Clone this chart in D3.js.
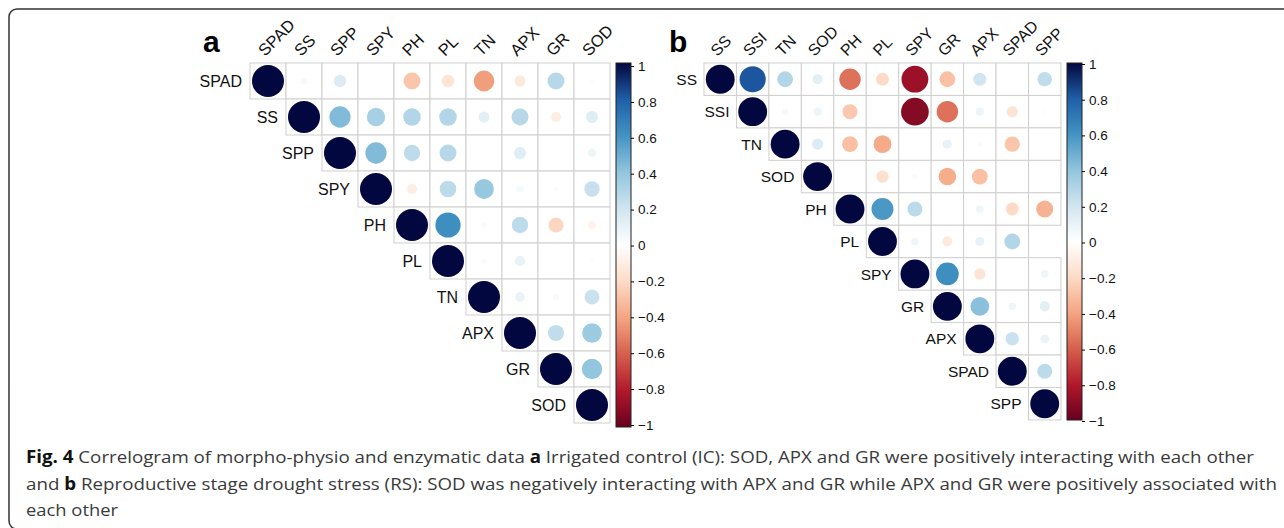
<!DOCTYPE html>
<html>
<head>
<meta charset="utf-8">
<script src="https://cdn.jsdelivr.net/npm/d3@7"></script>
<style>
body{margin:0;background:#fff;}
svg text{font-family:"Liberation Sans",Arial,sans-serif;}
</style>
</head>
<body>
<div id="fig"></div>
<script>
// correlogram, two panels + caption
var W=1284,H=528;

// panel a (irrigated control) - upper triangle rows, diagonal first
var varsA=["SPAD","SS","SPP","SPY","PH","PL","TN","APX","GR","SOD"];
var corrA=[
[1,0.05,0.15,0,-0.28,-0.15,-0.42,-0.12,0.28,-0.02],
[1,0.44,0.33,0.3,0.3,0.12,0.28,-0.1,0.14],
[1,0.44,0.26,0.28,0,0.14,0,0.07],
[1,-0.1,0.27,0.38,0.05,0.02,0.23],
[1,0.62,0.03,0.26,-0.22,-0.07],
[1,0.03,0.1,0,-0.02],
[1,0.09,0.04,0.22],
[1,0.25,0.37],
[1,0.4],
[1]
];

// panel b (reproductive stage drought stress)
var varsB=["SS","SSI","TN","SOD","PH","PL","SPY","GR","APX","SPAD","SPP"];
var corrB=[
[1,0.82,0.3,0.12,-0.55,-0.2,-0.86,-0.3,0.2,0,0.25],
[1,0.05,0.08,-0.27,0,-0.92,-0.55,0.08,-0.15,0.02],
[1,0.15,-0.3,-0.38,0,0.1,0.03,-0.28,0],
[1,0,-0.18,-0.03,-0.37,-0.3,0,0.01],
[1,0.58,0.27,-0.01,0.07,-0.2,-0.35],
[1,0.07,-0.12,0.1,0.3],
[1,0.62,-0.15,0.01,0.07],
[1,0.42,0.07,0.12],
[1,0.22,0.09],
[1,0.27],
[1]
];

var barTicks=[1,0.8,0.6,0.4,0.2,0,-0.2,-0.4,-0.6,-0.8,-1];
var rdbu=["#67001F","#B2182B","#D6604D","#F4A582","#FDDBC7","#FFFFFF","#D1E5F0","#92C5DE","#4393C3","#1F5FA8","#03073F"];

var capLines=[
 [{t:"Fig. 4",b:1},{t:" Correlogram of morpho-physio and enzymatic data "},{t:"a",b:1},{t:" Irrigated control (IC): SOD, APX and GR were positively interacting with each other"}],
 [{t:"and "},{t:"b",b:1},{t:" Reproductive stage drought stress (RS): SOD was negatively interacting with APX and GR while APX and GR were positively associated with"}],
 [{t:"each other"}]
];

var color=d3.scaleLinear().domain(d3.range(11).map(function(i){return -1+i*0.2;})).range(rdbu);

var svg=d3.select("#fig").append("svg").attr("width",W).attr("height",H);

// frame
svg.append("rect").attr("x",9).attr("y",9).attr("width",W+20).attr("height",H-9+1)
 .attr("rx",8).attr("fill","none").attr("stroke","#333").attr("stroke-width",1.5);

var gradId="rdbuGrad";
var grad=svg.append("defs").append("linearGradient").attr("id",gradId)
 .attr("x1",0).attr("y1",1).attr("x2",0).attr("y2",0);
rdbu.forEach(function(c,i){grad.append("stop").attr("offset",(i*10)+"%").attr("stop-color",c);});

function drawPanel(cfg){
 var n=cfg.vars.length;
 var x=d3.scaleBand().domain(cfg.vars).range([cfg.x0,cfg.x0+cfg.cell*n]);
 var y=d3.scaleBand().domain(cfg.vars).range([cfg.y0,cfg.y0+cfg.cell*n]);
 var r=d3.scaleSqrt().domain([0,1]).range([0,cfg.cell*0.445]);
 var g=svg.append("g");

 var cells=[];
 cfg.corr.forEach(function(row,i){
  row.forEach(function(v,k){cells.push({row:cfg.vars[i],col:cfg.vars[i+k],v:v});});
 });

 g.selectAll("rect.cell").data(cells).enter().append("rect").attr("class","cell")
  .attr("x",function(d){return x(d.col);}).attr("y",function(d){return y(d.row);})
  .attr("width",x.bandwidth()).attr("height",y.bandwidth())
  .attr("fill","#fff").attr("stroke","#cfcfcf").attr("stroke-width",1);

 g.selectAll("circle").data(cells).enter().append("circle")
  .attr("cx",function(d){return x(d.col)+x.bandwidth()/2;})
  .attr("cy",function(d){return y(d.row)+y.bandwidth()/2;})
  .attr("r",function(d){return r(Math.abs(d.v));})
  .attr("fill",function(d){return color(d.v);});

 // row labels
 g.selectAll("text.rl").data(cfg.vars).enter().append("text").attr("class","rl")
  .attr("x",function(d){return x(d)-cfg.gap;})
  .attr("y",function(d){return y(d)+y.bandwidth()/2;})
  .attr("dy","0.36em").attr("text-anchor","end")
  .style("font-size",cfg.fs+"px").attr("fill","#111").text(function(d){return d;});

 // column labels, rotated
 g.selectAll("text.cl").data(cfg.vars).enter().append("text").attr("class","cl")
  .attr("transform",function(d){return "translate("+(x(d)+x.bandwidth()/2-3)+","+(cfg.y0-6)+")rotate(-45)";})
  .style("font-size",(cfg.fs+0.5)+"px").attr("fill","#111").text(function(d){return d;});

 // panel letter
 svg.append("text").attr("x",cfg.lx).attr("y",52).style("font-size","30px")
  .style("font-weight","bold").text(cfg.letter);

 // colour bar
 var bs=d3.scaleLinear().domain([1,-1]).range([cfg.bt,cfg.bb]);
 svg.append("rect").attr("x",cfg.bx).attr("y",cfg.y0).attr("width",15)
  .attr("height",cfg.bh).attr("fill","url(#"+gradId+")").attr("stroke","#222").attr("stroke-width",1);
 var ax=svg.append("g").attr("transform","translate("+(cfg.bx+15)+",0)")
  .call(d3.axisRight(bs).tickValues(barTicks).tickSize(3).tickPadding(4).tickFormat(function(d){return d3.format("")(+d.toFixed(1));}));
 ax.select(".domain").remove();
 ax.selectAll("text").style("font-size","13.5px").attr("fill","#111")
  .style("font-family","'Liberation Sans',Arial,sans-serif");
}

drawPanel({vars:varsA,corr:corrA,x0:250,y0:63,cell:36,gap:8,fs:16,letter:"a",lx:203,
 bx:616,bh:364,bt:66,bb:425});
drawPanel({vars:varsB,corr:corrB,x0:704,y0:63,cell:32.45,gap:7,fs:15.5,letter:"b",lx:669,
 bx:1067,bh:357,bt:64,bb:421});

// caption
var capW=[1228,1251,92];
capLines.forEach(function(line,i){
 var t=svg.append("text").attr("x",26).attr("y",463+i*26.6)
  .style("font-family","'Open Sans',sans-serif").style("font-size","17px")
  .attr("fill","#3a3a3a").attr("textLength",capW[i]).attr("lengthAdjust","spacingAndGlyphs")
  .attr("xml:space","preserve");
 line.forEach(function(s){
  t.append("tspan").style("font-weight",s.b?"bold":"normal").attr("fill",s.b?"#111":"#3a3a3a").text(s.t);
 });
});
</script>
</body>
</html>
